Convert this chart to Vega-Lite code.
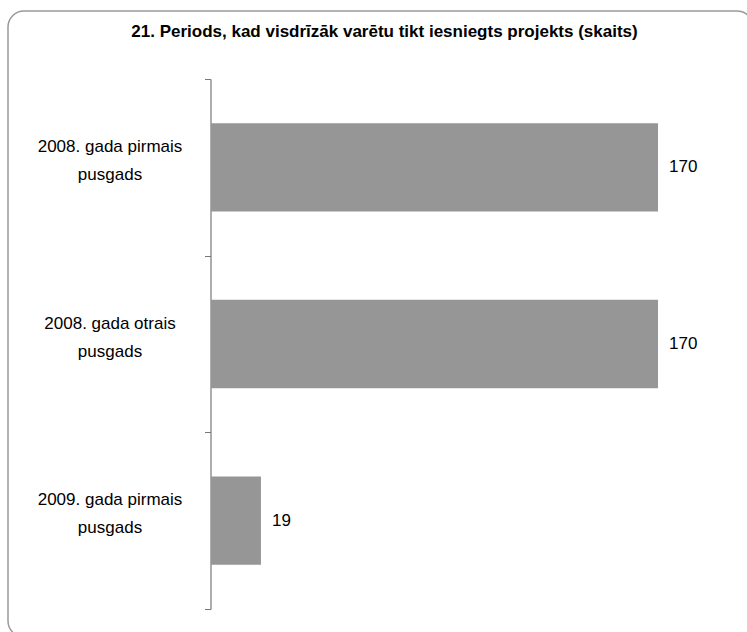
{
  "$schema": "https://vega.github.io/schema/vega-lite/v6.json",
  "autosize": "none",
  "padding": {"left": 8, "top": 11, "right": 0, "bottom": 0},
  "width": 745,
  "height": 626,
  "background": "white",
  "title": {
    "text": "21. Periods, kad visdrīzāk varētu tikt iesniegts projekts (skaits)",
    "font": "Liberation Sans",
    "fontSize": 17,
    "fontWeight": "bold",
    "color": "#000000",
    "anchor": "middle",
    "baseline": "top",
    "offset": -15,
    "dy": 24,
    "dx": 4
  },
  "config": {
    "view": {"stroke": "#999999", "strokeWidth": 1.5, "cornerRadius": 16},
    "font": "Liberation Sans"
  },
  "data": {
    "values": [
      {"period": "2008. gada pirmais|pusgads", "count": 170},
      {"period": "2008. gada otrais|pusgads", "count": 170},
      {"period": "2009. gada pirmais|pusgads", "count": 19}
    ]
  },
  "encoding": {
    "y": {
      "field": "period",
      "type": "nominal",
      "sort": null,
      "scale": {"range": [68, 598], "paddingInner": 0, "paddingOuter": 0},
      "axis": {
        "title": null,
        "offset": -202.5,
        "domainColor": "#777777",
        "domainWidth": 1.2,
        "tickColor": "#777777",
        "tickSize": 6,
        "tickBand": "extent",
        "labelExpr": "split(datum.label, '|')",
        "labelFont": "Liberation Sans",
        "labelFontSize": 17,
        "labelColor": "#000000",
        "labelAlign": "center",
        "labelLineHeight": 28,
        "labelPadding": 95,
        "labelOffset": -21,
        "labelBaseline": "middle"
      }
    },
    "x": {
      "field": "count",
      "type": "quantitative",
      "scale": {"domain": [0, 170], "range": [203, 650], "nice": false},
      "axis": null
    }
  },
  "layer": [
    {"mark": {"type": "bar", "color": "#969696", "height": {"band": 0.5}}},
    {
      "mark": {"type": "text", "align": "left", "baseline": "middle", "dx": 11, "fontSize": 17, "font": "Liberation Sans", "color": "#000000"},
      "encoding": {"text": {"field": "count", "type": "quantitative"}}
    }
  ]
}
